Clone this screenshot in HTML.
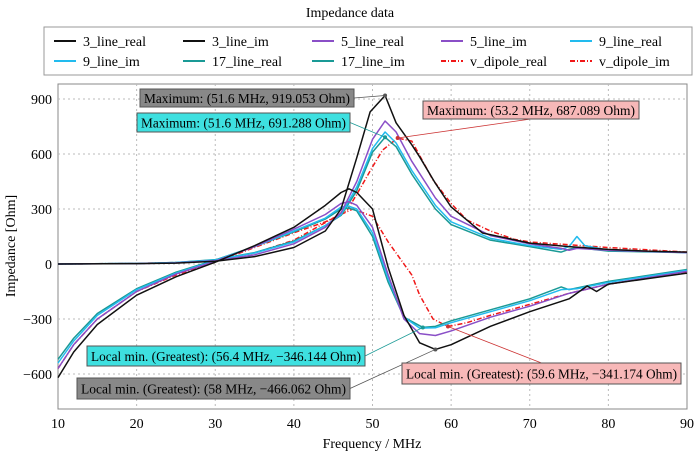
<!DOCTYPE html>
<html><head><meta charset="utf-8"><style>
body{margin:0;background:#fff;}
svg{display:block;font-family:"Liberation Serif",serif;}
</style></head><body>
<svg id="chart" width="700" height="456" viewBox="0 0 700 456">
<text x="350" y="17" text-anchor="middle" font-size="14">Impedance data</text>
<g id="legend"><rect x="44" y="27" width="648" height="48" fill="#fff" stroke="#999"/></g>
<rect x="58" y="84" width="629" height="325" fill="#fff" stroke="#888"/>
<g id="grid"></g><g id="axes"></g><g id="series"></g><g id="notes"></g>
<text transform="translate(15,246) rotate(-90)" text-anchor="middle" font-size="14">Impedance [Ohm]</text>
<text x="372" y="448" text-anchor="middle" font-size="14">Frequency / MHz</text>
</svg>
<script>
const xTicks=[10,20,30,40,50,60,70,80,90];
const yTicks=[-600,-300,0,300,600,900];
const f3r=[10,20,25,30,35,40,44,46,48,49.7,51.6,53,55,56,58,60,64,70,75,80,85,90];
const v3r=[0,2,5,15,40,90,180,300,580,830,919,770,650,584,440,311,169,114,95,80,70,65];
const f5r=[10,20,25,30,35,40,44,46,48,50,51.6,53,55,58,60,65,70,74,75,76,80,90];
const v5r=[0,2,6,18,50,110,200,280,450,680,780,720,560,360,260,155,110,85,75,85,75,62];
const f9r=[10,20,25,30,35,40,44,46,48,50,51.6,53,55,58,60,65,70,74,75,76,77,80,90];
const v9r=[0,3,8,22,60,120,210,270,420,630,720,660,510,320,230,140,100,80,95,150,100,75,62];
const f17r=[10,20,25,30,35,40,44,46,48,50,51.6,53,55,58,60,65,70,74,75,76,80,90];
const v17r=[0,3,8,24,62,125,210,265,400,610,691,640,490,300,215,130,95,65,80,90,70,62];
const fdr=[10,20,25,30,35,40,45,46.8,48,50,51.3,53.2,55,57.7,60,62,65,68,70,75,80,90];
const vdr=[0,3,8,20,60,130,250,295,380,530,622,687,670,458,330,240,180,135,120,105,90,65];
const f3i=[10,12,15,20,25,30,35,40,44,46,47,48,50,52,54,56,58,60,65,70,75,77.3,78.5,80,85,90];
const v3i=[-620,-480,-330,-170,-70,10,100,200,320,390,410,390,300,-20,-280,-430,-466,-440,-340,-260,-190,-120,-150,-110,-80,-50];
const f5i=[10,12,15,20,25,30,35,40,44,46,47,48,50,52,54,56,58,60,65,70,75,80,90];
const v5i=[-570,-440,-300,-150,-55,15,95,190,270,330,340,320,200,-60,-300,-380,-390,-365,-290,-230,-160,-110,-40];
const f9i=[10,12,15,20,25,30,35,40,44,46,47,48,50,52,54,56,58,60,65,70,74,76,80,90];
const v9i=[-540,-420,-280,-140,-50,20,95,180,250,310,315,300,170,-80,-290,-350,-348,-320,-260,-200,-140,-135,-100,-35];
const f17i=[10,12,15,20,25,30,35,40,44,46,47,48,50,52,54,56.4,58,60,65,70,74,75,80,90];
const v17i=[-520,-405,-270,-135,-45,22,95,175,245,300,305,290,150,-100,-290,-346,-340,-310,-250,-190,-125,-140,-95,-30];
const fdi=[10,12,15,20,25,30,35,40,44,46,47.5,50,52,54,55,56,57.7,59.6,62,65,70,75,80,90];
const vdi=[-570,-440,-300,-150,-60,10,90,170,230,270,300,260,120,0,-60,-170,-300,-341,-320,-280,-220,-160,-110,-45];
const legendLabels=["3_line_real","3_line_im","5_line_real","5_line_im","9_line_real","9_line_im","17_line_real","17_line_im","v_dipole_real","v_dipole_im"];
const X=v=>58+(v-10)*629/80;
const Y=v=>264-v*55/300;
const NS="http://www.w3.org/2000/svg";
function mk(tag,attrs,parent){const e=document.createElementNS(NS,tag);for(const k in attrs)e.setAttribute(k,attrs[k]);parent.appendChild(e);return e;}
const grid=document.getElementById('grid'),axes=document.getElementById('axes');
xTicks.forEach(t=>{
 if(t>10&&t<90){const l=mk('line',{x1:X(t),x2:X(t),y1:84,y2:409,stroke:'#bbb','stroke-dasharray':'2,3'},grid);
 
 }
 const tx=mk('text',{x:X(t),y:428,'text-anchor':'middle','font-size':14},axes);tx.textContent=t;
 
 
});
yTicks.forEach(t=>{
 const l=mk('line',{x1:58,x2:687,y1:Y(t),y2:Y(t),stroke:'#bbb','stroke-dasharray':'2,3'},grid);
 
 
 const tx=mk('text',{x:52,y:Y(t)+5,'text-anchor':'end','font-size':14},axes);tx.textContent=t<0?'\u2212'+(-t):t;
 
 
});
const S=[
 [f3r,v3r,'#111',''],[f3i,v3i,'#111',''],[f5r,v5r,'#8a4fc7',''],[f5i,v5i,'#8a4fc7',''],
 [f9r,v9r,'#22bbee',''],[f9i,v9i,'#22bbee',''],[f17r,v17r,'#1a9a96',''],[f17i,v17i,'#1a9a96',''],
 [fdr,vdr,'#f01818','5,2,1,2'],[fdi,vdi,'#f01818','5,2,1,2']];
const sg=document.getElementById('series');
const order=[8,9,6,7,4,5,2,3,0,1];
order.forEach(i=>{const s=S[i];
 const p=mk('polyline',{points:s[0].map((f,j)=>X(f)+','+Y(s[1][j])).join(' '),fill:'none',stroke:s[2],'stroke-width':1.5,'stroke-dasharray':s[3],'stroke-linejoin':'round'},sg);
 
 
});
const lg=document.getElementById('legend');
const colX=[48,177,306,435,564];
legendLabels.forEach((lab,i)=>{const r=Math.floor(i/5),c=i%5,y=41+r*20,s=S[i];
 const g=mk('g',{},lg);
 
 
 mk('line',{x1:colX[c]+6,x2:colX[c]+28,y1:y,y2:y,stroke:s[2],'stroke-width':2,'stroke-dasharray':s[3]},g);
 const t=mk('text',{x:colX[c]+35,y:y+5,'font-size':14},g);t.textContent=lab;
});
const notes=[
 [51.6,919.053,140,89,214,18,'#888','Maximum: (51.6 MHz, 919.053 Ohm)','#555'],
 [51.6,691.288,137,113,213,19,'#3ee0e0','Maximum: (51.6 MHz, 691.288 Ohm)','#1a9a96'],
 [53.2,687.089,423,101,216,18,'#f7b8b8','Maximum: (53.2 MHz, 687.089 Ohm)','#c33'],
 [56.4,-346.144,87,346,278,20,'#3ee0e0','Local min. (Greatest): (56.4 MHz, \u2212346.144 Ohm)','#1a9a96'],
 [58,-466.062,77,378,273,21,'#888','Local min. (Greatest): (58 MHz, \u2212466.062 Ohm)','#555'],
 [59.6,-341.174,402,363,279,21,'#f7b8b8','Local min. (Greatest): (59.6 MHz, \u2212341.174 Ohm)','#c33']];
const ng=document.getElementById('notes');
notes.forEach(n=>{const [f,v,bx,by,bw,bh,bg,txt,lc]=n;
 const g=mk('g',{},ng);
 
 
 const cx=bx+bw/2>X(f)?bx+bw/2:bx+bw;
 const cy=bx+bw/2>X(f)?(v>0?by+bh:by):by+bh/2;
 mk('line',{x1:cx,y1:cy,x2:X(f),y2:Y(v),stroke:lc,'stroke-width':0.8},g);
 mk('circle',{cx:X(f),cy:Y(v),r:2,fill:lc},g);
 mk('rect',{x:bx,y:by,width:bw,height:bh,fill:bg,stroke:'#555'},g);
 const t=mk('text',{x:bx+4,y:by+bh/2+5,'font-size':14,textLength:bw-8,lengthAdjust:'spacingAndGlyphs'},g);t.textContent=txt;
});
</script>
</body></html>
